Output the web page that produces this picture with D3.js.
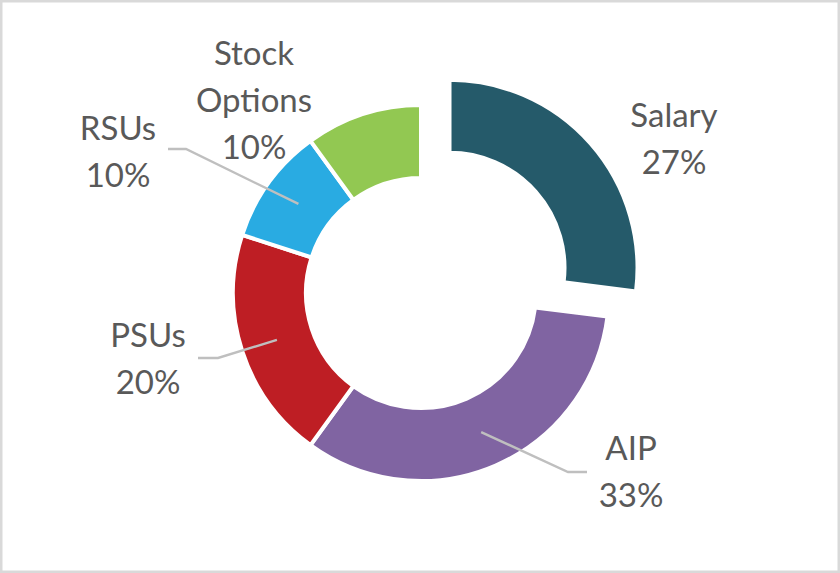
<!DOCTYPE html>
<html><head><meta charset="utf-8">
<script src="https://cdn.jsdelivr.net/npm/d3@7"></script>
<style>html,body{margin:0;padding:0;background:#fff;}svg{display:block;}</style>
</head><body>
<svg id="chart" width="840" height="573"></svg>
<script>
// ---- data ----
const categories = ["Salary", "AIP", "PSUs", "RSUs", "Stock Options"];
const values = [27, 33, 20, 10, 10];
const labelLines = [["Salary", "27%"], ["AIP", "33%"], ["PSUs", "20%"], ["RSUs", "10%"], ["Stock", "Options", "10%"]];
const colors = ["#255a6a", "#8064a2", "#be1e24", "#29abe2", "#92c852"];
const explode = [1, 0, 0, 0, 0];

// ---- layout ----
const W = 840, H = 573;
const cx = 421, cy = 293, R = 188, r0 = 115, explodeDist = 38;
const fontSize = 33, lineGap = 47;
// label block: center x and first baseline y; leader: elbow points (null if none)
const labelLayout = [
  {x: 674, y: 127, leader: null},
  {x: 631, y: 460, leader: [[568, 472], [587, 472]]},
  {x: 148, y: 347, leader: [[218, 358], [198, 358]]},
  {x: 118, y: 140, leader: [[186, 149], [168, 149]]},
  {x: 254, y: 65, leader: null}
];

const svg = d3.select("#chart");
svg.append("rect").attr("x", 1).attr("y", 1).attr("width", W - 2).attr("height", H - 2)
  .attr("fill", "#fff").attr("stroke", "#d9d9d9").attr("stroke-width", 3);

const pie = d3.pie().sort(null).value(d => d)(values);
const arc = d3.arc().innerRadius(r0).outerRadius(R);
const g = svg.append("g").attr("transform", `translate(${cx},${cy})`);

g.selectAll("path.slice").data(pie).join("path")
  .attr("class", "slice")
  .attr("transform", (d, i) => {
    if (!explode[i]) return null;
    const a = (d.startAngle + d.endAngle) / 2;
    return `translate(${Math.sin(a) * explodeDist},${-Math.cos(a) * explodeDist})`;
  })
  .attr("d", arc)
  .attr("fill", (d, i) => colors[i])
  .attr("stroke", "#fff").attr("stroke-width", 4).attr("stroke-linejoin", "miter");

// leader lines
pie.forEach((d, i) => {
  const L = labelLayout[i];
  if (!L.leader) return;
  const c = arc.centroid(d);
  const pts = [[cx + c[0], cy + c[1]]].concat(L.leader);
  svg.append("path").attr("d", d3.line()(pts))
    .attr("fill", "none").attr("stroke", "#bfbfbf").attr("stroke-width", 2.4);
});

// labels
labelLines.forEach((lines, i) => {
  const L = labelLayout[i];
  const t = svg.append("text").attr("text-anchor", "middle")
    .attr("font-family", "Lato, 'Open Sans', sans-serif").attr("font-size", fontSize)
    .attr("fill", "#595959");
  lines.forEach((s, k) => {
    t.append("tspan").attr("x", L.x).attr("y", L.y + k * lineGap).text(s);
  });
});
</script>
</body></html>
